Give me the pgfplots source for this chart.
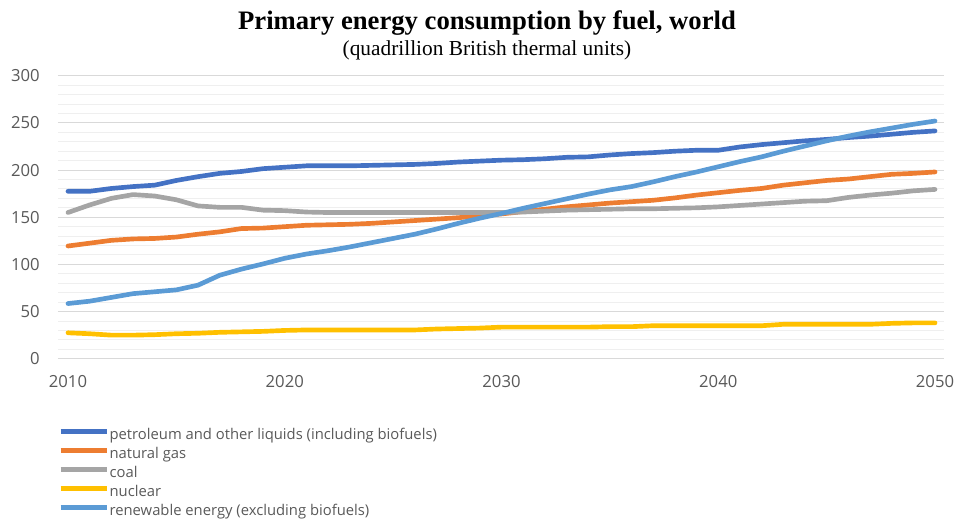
\documentclass[border=0pt]{standalone}
\usepackage{pgfplots}
\pgfplotsset{compat=1.18}
\usepackage{pgfplotstable}
\usepackage{fontspec}
\setmainfont{Liberation Serif}
\newfontfamily\chartfont{Open Sans}

\definecolor{petrol}{HTML}{4472C4}
\definecolor{gas}{HTML}{ED7D31}
\definecolor{coal}{HTML}{A5A5A5}
\definecolor{nuclear}{HTML}{FFC000}
\definecolor{renew}{HTML}{5B9BD5}
\definecolor{labelgray}{HTML}{595959}
\definecolor{majorgrid}{HTML}{D9D9D9}
\definecolor{minorgrid}{HTML}{EFEFEF}

% year, petroleum, natural gas, coal, nuclear, renewables
\pgfplotstableread{
year petrol gas coal nuclear renew
2010 177.5 119.5 155.0 27.5 58.5
2011 177.5 122.5 163.0 26.5 61.0
2012 180.5 125.5 170.0 25.0 65.0
2013 182.5 127.0 174.0 25.0 69.0
2014 184.0 127.5 172.5 25.5 71.0
2015 189.0 129.0 168.5 26.5 73.0
2016 193.0 132.0 162.0 27.0 78.0
2017 196.5 134.5 160.5 28.0 88.5
2018 198.5 138.0 160.5 28.5 95.0
2019 201.5 138.5 157.5 29.0 100.5
2020 203.0 140.0 157.0 30.0 106.5
2021 204.5 141.5 155.5 30.5 111.0
2022 204.5 142.0 155.0 30.5 114.5
2023 204.5 142.5 155.0 30.5 118.5
2024 205.0 143.5 155.0 30.5 123.0
2025 205.5 145.0 155.0 30.5 127.5
2026 206.0 146.5 155.0 30.5 132.0
2027 207.0 148.0 155.0 31.5 137.5
2028 208.5 149.5 155.0 32.0 143.5
2029 209.5 151.5 155.0 32.5 149.0
2030 210.5 153.5 155.0 33.5 154.0
2031 211.0 156.0 155.5 33.5 159.5
2032 212.0 158.5 156.5 33.5 164.5
2033 213.5 161.0 157.5 33.5 169.5
2034 214.0 163.0 158.0 33.5 174.5
2035 216.0 165.0 158.5 34.0 179.0
2036 217.5 166.5 159.0 34.0 182.5
2037 218.5 168.0 159.0 35.0 187.5
2038 220.0 170.5 159.5 35.0 193.0
2039 221.0 173.5 160.0 35.0 198.0
2040 221.0 176.0 161.0 35.0 203.5
2041 224.5 178.5 162.5 35.0 209.0
2042 227.0 180.5 164.0 35.0 214.0
2043 229.0 184.0 165.5 36.5 220.0
2044 231.0 186.5 167.0 36.5 225.5
2045 232.5 189.0 167.5 36.5 231.0
2046 234.5 190.5 171.0 36.5 236.0
2047 236.0 193.0 173.5 36.5 240.5
2048 238.0 195.5 175.5 37.5 244.5
2049 240.0 196.5 178.0 38.0 248.5
2050 241.5 198.0 179.5 38.0 252.0
}\energy

\begin{document}
\begin{tikzpicture}
\path[use as bounding box] (0,0) rectangle (715.5pt,389.25pt);

\node[anchor=base, font=\bfseries\fontsize{20}{24}\selectfont] at (365.25pt,366.75pt)
  {Primary energy consumption by fuel, world};
\node[anchor=base, font=\fontsize{16}{19}\selectfont] at (365.25pt,347.5pt)
  {(quadrillion British thermal units)};

\begin{axis}[
  at={(43.5pt,120.2pt)}, anchor=south west,
  scale only axis, width=664.5pt, height=212.25pt,
  xmin=2009.539, xmax=2050.415,
  ymin=0, ymax=300,
  xtick={2010,2020,2030,2040,2050},
  ytick={0,50,...,300},
  minor ytick={10,20,...,290},
  xticklabel={\pgfmathprintnumber[1000 sep={}]{\tick}},
  /pgf/number format/assume math mode=true,
  /pgf/number format/1000 sep={},
  ticklabel style={font=\chartfont\fontsize{12.5}{15}\selectfont, text=labelgray, inner sep=0pt},
  xticklabel shift=12.5pt,
  yticklabel shift=13.5pt,
  major tick length=0pt, minor tick length=0pt,
  axis line style={draw=none},
  ymajorgrids, yminorgrids,
  major grid style={majorgrid, line width=0.75pt},
  minor grid style={minorgrid, line width=0.75pt},
  clip=false,
  legend cell align=left,
  legend style={at={(0,-0.238)}, anchor=north west, draw=none, fill=none,
    inner sep=0pt, row sep=0pt,
    font=\chartfont\fontsize{11.1}{13}\selectfont, text=labelgray,
    nodes={inner sep=0pt, text height=9.5pt, text depth=4.75pt, xshift=2pt}},
  legend image code/.code={\draw[#1, line cap=butt] (0pt,3.5pt) -- (35pt,3.5pt);},
  every axis plot/.append style={line width=3.5pt, line cap=round, line join=round},
]
\addplot[petrol] table[x=year, y=petrol] {\energy};
\addlegendentry{petroleum and other liquids (including biofuels)}
\addplot[gas] table[x=year, y=gas] {\energy};
\addlegendentry{natural gas}
\addplot[coal] table[x=year, y=coal] {\energy};
\addlegendentry{coal}
\addplot[nuclear] table[x=year, y=nuclear] {\energy};
\addlegendentry{nuclear}
\addplot[renew] table[x=year, y=renew] {\energy};
\addlegendentry{renewable energy (excluding biofuels)}
\end{axis}
\end{tikzpicture}
\end{document}
